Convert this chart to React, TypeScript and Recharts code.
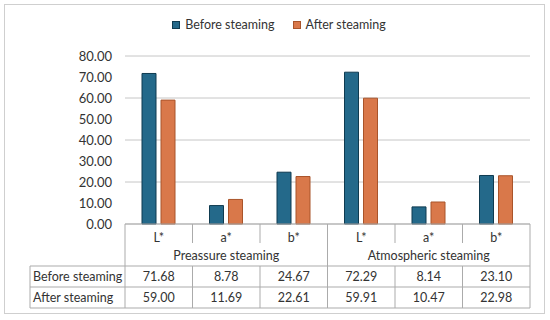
import { Bar, BarChart, CartesianGrid, XAxis, YAxis } from 'recharts';

const CATEGORIES = ['L*', 'a*', 'b*', 'L*', 'a*', 'b*'];
const GROUPS = ['Preassure steaming', 'Atmospheric steaming'];
const SERIES_NAMES = ['Before steaming', 'After steaming'];
const BEFORE = [71.68, 8.78, 24.67, 72.29, 8.14, 23.1];
const AFTER = [59.0, 11.69, 22.61, 59.91, 10.47, 22.98];
const Y_TICKS = [0, 10, 20, 30, 40, 50, 60, 70, 80];

const COLORS = ['#24698a', '#d9784a'];
const STROKES = ['#0f3b50', '#a9542a'];
const TEXT = '#333333';
const TABLE_LINE = '#ababab';
const FONT = "Lato, 'Open Sans', sans-serif";
const FS = 12.5;

const WIDTH = 550;
const HEIGHT = 320;
const PLOT_LEFT = 125;
const PLOT_RIGHT = 530;
const BAND = (PLOT_RIGHT - PLOT_LEFT) / CATEGORIES.length;
const TABLE_LEFT = 30;

// rows of the data table, measured down from the axis line
const CAT_ROW = 42;
const ROW_H = 21;

const data = CATEGORIES.map((cat, i) => ({
  key: `${Math.floor(i / 3)}-${cat}`,
  cat,
  before: BEFORE[i],
  after: AFTER[i],
}));

function TableTick(props: any) {
  const { x, y, payload } = props;
  const i: number = payload.index;
  const left = x - BAND / 2;
  const bottom = y + CAT_ROW + ROW_H * 2;
  const groupEdge = i % 3 === 0;

  return (
    <g fontFamily={FONT} fill={TEXT}>
      {i === 0 && (
        <g>
          {[0, 1, 2].map((r) => (
            <line
              key={r}
              x1={TABLE_LEFT}
              x2={PLOT_RIGHT}
              y1={y + CAT_ROW + ROW_H * r}
              y2={y + CAT_ROW + ROW_H * r}
              stroke={TABLE_LINE}
            />
          ))}
          <line x1={TABLE_LEFT} x2={TABLE_LEFT} y1={y + CAT_ROW} y2={bottom} stroke={TABLE_LINE} />
          {SERIES_NAMES.map((name, r) => (
            <text key={name} x={TABLE_LEFT + 3} y={y + CAT_ROW + ROW_H * r + ROW_H / 2} dominantBaseline="central" fontSize={FS}>
              {name}
            </text>
          ))}
        </g>
      )}
      {groupEdge ? (
        <line x1={left} x2={left} y1={y} y2={bottom} stroke={TABLE_LINE} />
      ) : (
        <g>
          <line x1={left} x2={left} y1={y} y2={y + 19} stroke={TABLE_LINE} />
          <line x1={left} x2={left} y1={y + CAT_ROW} y2={bottom} stroke={TABLE_LINE} />
        </g>
      )}
      {i === CATEGORIES.length - 1 && (
        <line x1={left + BAND} x2={left + BAND} y1={y} y2={bottom} stroke={TABLE_LINE} />
      )}
      <text x={x} y={y + 13} textAnchor="middle" dominantBaseline="central" fontSize={FS}>
        {CATEGORIES[i]}
      </text>
      {i % 3 === 1 && (
        <text x={x} y={y + 31} textAnchor="middle" dominantBaseline="central" fontSize={FS}>
          {GROUPS[Math.floor(i / 3)]}
        </text>
      )}
      <text x={x} y={y + CAT_ROW + ROW_H / 2} textAnchor="middle" dominantBaseline="central" fontSize={FS}>
        {BEFORE[i].toFixed(2)}
      </text>
      <text x={x} y={y + CAT_ROW + ROW_H * 1.5} textAnchor="middle" dominantBaseline="central" fontSize={FS}>
        {AFTER[i].toFixed(2)}
      </text>
    </g>
  );
}

function LegendBox() {
  return (
    <div
      style={{
        position: 'absolute',
        top: 17,
        left: 4,
        width: WIDTH,
        display: 'flex',
        justifyContent: 'center',
        gap: 18,
        fontFamily: FONT,
        fontSize: FS,
        color: TEXT,
      }}
    >
      {SERIES_NAMES.map((name, i) => (
        <div key={name} style={{ display: 'flex', alignItems: 'center', gap: 5 }}>
          <span
            style={{
              display: 'inline-block',
              width: 6,
              height: 6,
              background: COLORS[i],
              border: `1px solid ${STROKES[i]}`,
            }}
          />
          <span>{name}</span>
        </div>
      ))}
    </div>
  );
}

export default function App() {
  return (
    <div style={{ position: 'absolute', left: 0, top: 0, width: WIDTH, height: HEIGHT, background: '#fff' }}>
      <div
        style={{
          position: 'absolute',
          left: 4,
          top: 4,
          width: 539,
          height: 308,
          border: '1px solid #cfcfcf',
        }}
      />
      <LegendBox />
      <div style={{ position: 'absolute', left: 0, top: 0 }}>
        <BarChart
          width={WIDTH}
          height={HEIGHT}
          data={data}
          margin={{ top: 56, right: WIDTH - PLOT_RIGHT, bottom: 6, left: 0 }}
          barSize={14}
          barGap={5}
        >
          <CartesianGrid vertical={false} stroke="#c6c6c6" />
          <XAxis
            dataKey="key"
            interval={0}
            height={90}
            tickLine={false}
            tickSize={0}
            tickMargin={0}
            axisLine={{ stroke: TABLE_LINE }}
            tick={<TableTick />}
          />
          <YAxis
            width={PLOT_LEFT}
            domain={[0, 80]}
            ticks={Y_TICKS}
            axisLine={false}
            tickLine={false}
            tickMargin={7}
            tickFormatter={(v: number) => v.toFixed(2)}
            tick={{ fill: TEXT, fontSize: 13, fontFamily: FONT }}
          />
          <Bar dataKey="before" name={SERIES_NAMES[0]} fill={COLORS[0]} stroke={STROKES[0]} strokeWidth={1} isAnimationActive={false} />
          <Bar dataKey="after" name={SERIES_NAMES[1]} fill={COLORS[1]} stroke={STROKES[1]} strokeWidth={1} isAnimationActive={false} />
        </BarChart>
      </div>
    </div>
  );
}
